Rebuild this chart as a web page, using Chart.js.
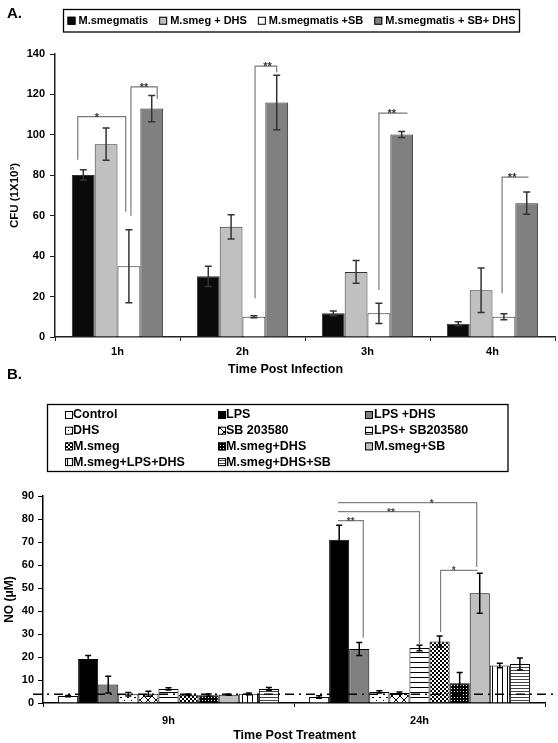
<!DOCTYPE html>
<html>
<head>
<meta charset="utf-8">
<script src="https://cdn.jsdelivr.net/npm/chart.js"></script>
<style>
body { margin: 0; background: #fff; }
canvas { position: absolute; left: 0; }
#chartA { top: 0; }
#chartB { top: 360px; }
</style>
</head>
<body>
<canvas id="chartA" width="558" height="380"></canvas>
<canvas id="chartB" width="558" height="383"></canvas>
<script>
const fontFam = '"Liberation Sans", Arial, Helvetica, sans-serif';

// ---------- panel A : CFU ----------
const timesA = ['1h', '2h', '3h', '4h'];
const namesA = ['M.smegmatis', 'M.smeg + DHS', 'M.smegmatis +SB', 'M.smegmatis + SB+ DHS'];
const cfuSmeg = [80.2, 30, 11.7, 6.6];
const cfuSmegErr = [2.5, 5, 1.2, 1];
const cfuDhs = [95.4, 54.5, 32.2, 23.1];
const cfuDhsErr = [8, 6, 5.6, 11];
const cfuSb = [35, 10, 11.7, 10];
const cfuSbErr = [18, 0.5, 5, 1.5];
const cfuSbDhs = [113, 116, 100.2, 66.2];
const cfuSbDhsErr = [6.5, 13.5, 1.5, 5.5];
const cfuTicks = [0, 20, 40, 60, 80, 100, 120, 140];
// [time, from bar, to bar, top, left foot, right foot, stars, star pos]
const sigA = [
  [0, -0.24, 1.86, 109, 87.7, 62, '*', 0.4],
  [0, 2.09, 3.24, 123.7, 60, 117.7, '**', 0.5],
  [1, 2.05, 3.0, 134, 19.2, 131, '**', 0.58],
  [2, 2.0, 3.25, 110.8, 23.3, 110.8, '**', 0.45],
  [3, 1.92, 3.08, 79.1, 21.6, 79.1, '**', 0.38]
];

// ---------- panel B : NO ----------
const timesB = ['9h', '24h'];
const namesB = ['Control', 'LPS', 'LPS +DHS', 'DHS', 'SB 203580', 'LPS+ SB203580',
  'M.smeg', 'M.smeg+DHS', 'M.smeg+SB', 'M.smeg+LPS+DHS', 'M.smeg+DHS+SB'];
const noControl = [3.0, 2.6];
const noControlErr = [0.3, 0.5];
const noLps = [19.1, 71];
const noLpsErr = [1.5, 6.3];
const noLpsDhs = [8, 23.5];
const noLpsDhsErr = [3.6, 2.8];
const noDhs = [3.8, 4.8];
const noDhsErr = [0.8, 0.5];
const noSb = [4.0, 4.3];
const noSbErr = [1.1, 0.5];
const noLpsSb = [6.1, 23.9];
const noLpsSbErr = [0.5, 1.2];
const noSmeg = [3.6, 26.7];
const noSmegErr = [0.3, 2.4];
const noSmegDhs = [3.4, 8.6];
const noSmegDhsErr = [0.5, 4.7];
const noSmegSb = [3.6, 47.7];
const noSmegSbErr = [0.2, 8.7];
const noSmegLpsDhs = [4.0, 16.3];
const noSmegLpsDhsErr = [0.4, 1];
const noSmegDhsSb = [6.1, 17];
const noSmegDhsSbErr = [0.6, 2.6];
const noTicks = [0, 10, 20, 30, 40, 50, 60, 70, 80, 90];
const noBaseline = 3.8;
const sigB = [
  [1, 0.94, 7.85, 87.1, 87.1, 59.1, '*', 0.675],
  [1, 0.94, 5.0, 83.2, 83.2, 25.1, '**', 0.65],
  [1, 0.94, 2.2, 79.3, 79.3, 28.4, '**', 0.5],
  [1, 6.05, 7.9, 57.7, 30.9, 57.7, '*', 0.35]
];

Chart.defaults.font.family = fontFam;
Chart.defaults.font.weight = 'bold';
Chart.defaults.color = '#000';

// fill patterns
function makePattern(w, h, draw) {
  const c = document.createElement('canvas');
  c.width = w; c.height = h;
  const g = c.getContext('2d');
  g.fillStyle = '#fff';
  g.fillRect(0, 0, w, h);
  g.fillStyle = '#000';
  draw(g);
  return g.createPattern(c, 'repeat');
}
const patDots = makePattern(7, 6, g => { g.fillRect(1, 1, 2, 1); g.fillRect(5, 4, 1, 1); });
const patCross = makePattern(8, 8, g => {
  g.strokeStyle = '#000'; g.lineWidth = 1;
  g.beginPath(); g.moveTo(0, 0); g.lineTo(8, 8); g.moveTo(8, 0); g.lineTo(0, 8); g.stroke();
});
const patHoriz = makePattern(1, 5, g => g.fillRect(0, 2, 1, 1));
const patChecker = makePattern(4, 4, g => { g.fillRect(0, 0, 2, 2); g.fillRect(2, 2, 2, 2); });
const patDense = makePattern(3, 3, g => { g.fillRect(0, 0, 3, 3); g.fillStyle = '#fff'; g.fillRect(1, 1, 1, 1); });
const patVert = makePattern(5, 1, g => g.fillRect(2, 0, 1, 1));
const patHorizGray = makePattern(1, 3, g => { g.fillStyle = '#444'; g.fillRect(0, 1, 1, 1); });

// plugins
function errorBars(color, width, cap) {
  return {
    id: 'errorBars',
    afterDatasetsDraw(chart) {
      const ctx = chart.ctx, y = chart.scales.y;
      ctx.save();
      ctx.strokeStyle = color;
      ctx.lineWidth = width;
      chart.data.datasets.forEach((ds, i) => {
        chart.getDatasetMeta(i).data.forEach((bar, j) => {
          const e = ds.errors[j];
          const hi = y.getPixelForValue(ds.data[j] + e);
          const lo = y.getPixelForValue(Math.max(0, ds.data[j] - e));
          const x = bar.x;
          ctx.beginPath();
          ctx.moveTo(x, hi); ctx.lineTo(x, lo);
          ctx.moveTo(x - cap, hi); ctx.lineTo(x + cap, hi);
          ctx.moveTo(x - cap, lo); ctx.lineTo(x + cap, lo);
          ctx.stroke();
        });
      });
      ctx.restore();
    }
  };
}

function brackets(list, color, textColor, font) {
  return {
    id: 'brackets',
    afterDatasetsDraw(chart) {
      const ctx = chart.ctx, y = chart.scales.y;
      const xAt = (cat, s) => {
        const a = chart.getDatasetMeta(0).data[cat].x;
        const b = chart.getDatasetMeta(1).data[cat].x;
        return a + s * (b - a);
      };
      ctx.save();
      ctx.strokeStyle = color;
      ctx.lineWidth = 1.2;
      ctx.fillStyle = textColor;
      ctx.font = font;
      ctx.textAlign = 'center';
      ctx.textBaseline = 'alphabetic';
      list.forEach(([cat, s0, s1, top, footL, footR, stars, pos]) => {
        const x0 = xAt(cat, s0), x1 = xAt(cat, s1);
        const yt = y.getPixelForValue(top);
        ctx.beginPath();
        ctx.moveTo(x0, y.getPixelForValue(footL));
        ctx.lineTo(x0, yt);
        ctx.lineTo(x1, yt);
        ctx.lineTo(x1, y.getPixelForValue(footR));
        ctx.stroke();
        ctx.fillText(stars, x0 + (x1 - x0) * pos, yt + 4);
      });
      ctx.restore();
    }
  };
}

function drawSwatch(ctx, fill, x, cy, size) {
  ctx.fillStyle = fill;
  ctx.fillRect(x, cy - size / 2, size, size);
  ctx.strokeRect(x + 0.5, cy - size / 2 + 0.5, size - 1, size - 1);
}

// one-row legend in a box, gaps spread to fill it
function rowLegend(box, font, size) {
  return {
    id: 'rowLegend',
    afterDraw(chart) {
      const ctx = chart.ctx;
      const ds = chart.data.datasets;
      ctx.save();
      ctx.lineWidth = 1.3;
      ctx.strokeStyle = '#000';
      ctx.strokeRect(box[0], box[1], box[2], box[3]);
      ctx.font = font;
      ctx.textBaseline = 'middle';
      ctx.lineWidth = 1;
      const widths = ds.map(d => size + 3 + ctx.measureText(d.label).width);
      const used = widths.reduce((a, b) => a + b, 0);
      const gap = (box[2] - 8 - used) / (ds.length - 1);
      const cy = box[1] + box[3] / 2;
      let x = box[0] + 4;
      ds.forEach((d, i) => {
        drawSwatch(ctx, d.backgroundColor, x, cy, size);
        ctx.fillStyle = '#000';
        ctx.fillText(d.label, x + size + 3, cy);
        x += widths[i] + gap;
      });
      ctx.restore();
    }
  };
}

// grid legend in a box, place(i) -> [swatch x, text x, centre y]
function gridLegend(box, font, size, place) {
  return {
    id: 'gridLegend',
    afterDraw(chart) {
      const ctx = chart.ctx;
      ctx.save();
      ctx.lineWidth = 1.3;
      ctx.strokeStyle = '#000';
      ctx.strokeRect(box[0], box[1], box[2], box[3]);
      ctx.font = font;
      ctx.textBaseline = 'middle';
      ctx.lineWidth = 1;
      chart.data.datasets.forEach((ds, i) => {
        const [sx, tx, cy] = place(i);
        drawSwatch(ctx, ds.backgroundColor, sx, cy, size);
        ctx.fillStyle = '#000';
        ctx.fillText(ds.label, tx, cy);
      });
      ctx.restore();
    }
  };
}

function panelText(letter, letterY, title, titleX, titleY) {
  return {
    id: 'panelText',
    afterDraw(chart) {
      const ctx = chart.ctx;
      ctx.save();
      ctx.fillStyle = '#000';
      ctx.textBaseline = 'middle';
      ctx.font = 'bold 15px ' + fontFam;
      ctx.textAlign = 'left';
      ctx.fillText(letter, 7, letterY);
      ctx.font = 'bold 12.5px ' + fontFam;
      ctx.textAlign = 'center';
      ctx.fillText(title, titleX, titleY);
      ctx.restore();
    }
  };
}

const baseLine = {
  id: 'baseLine',
  afterDatasetsDraw(chart) {
    const ctx = chart.ctx;
    const yy = chart.scales.y.getPixelForValue(noBaseline);
    ctx.save();
    ctx.strokeStyle = '#000';
    ctx.lineWidth = 1.6;
    ctx.setLineDash([9, 5, 2, 5]);
    ctx.beginPath();
    ctx.moveTo(33, yy);
    ctx.lineTo(556, yy);
    ctx.stroke();
    ctx.restore();
  }
};

// ---------- chart A ----------
new Chart(document.getElementById('chartA'), {
  type: 'bar',
  data: {
    labels: timesA,
    datasets: [
      { label: namesA[0], data: cfuSmeg, errors: cfuSmegErr, backgroundColor: '#0a0a0a' },
      { label: namesA[1], data: cfuDhs, errors: cfuDhsErr, backgroundColor: '#c0c0c0' },
      { label: namesA[2], data: cfuSb, errors: cfuSbErr, backgroundColor: '#ffffff' },
      { label: namesA[3], data: cfuSbDhs, errors: cfuSbDhsErr, backgroundColor: '#808080' }
    ]
  },
  options: {
    responsive: false,
    animation: false,
    layout: { padding: { top: 54, left: 0, right: 3, bottom: 0 } },
    datasets: { bar: { borderColor: '#333', borderWidth: 1, categoryPercentage: 0.73, barPercentage: 1 } },
    plugins: { legend: { display: false }, tooltip: { enabled: false } },
    scales: {
      x: {
        afterFit: s => { s.height = 43; },
        grid: { drawOnChartArea: false, drawTicks: true, tickLength: 4, color: '#222' },
        border: { display: true, color: '#222', width: 1.5 },
        ticks: { font: { size: 11, weight: 'bold' }, padding: 4 }
      },
      y: {
        min: 0, max: 140,
        afterFit: s => { s.width = 55; },
        afterBuildTicks: s => { s.ticks = cfuTicks.map(v => ({ value: v })); },
        grid: { drawOnChartArea: false, drawTicks: true, tickLength: 5, color: '#222' },
        border: { display: true, color: '#222', width: 1.5 },
        ticks: { font: { size: 11, weight: 'bold' }, padding: 5 },
        title: { display: true, text: 'CFU (1X10³)', font: { size: 11.5, weight: 'bold' }, padding: { top: 8, bottom: 0 } }
      }
    }
  },
  plugins: [
    errorBars('#333', 1.5, 3.5),
    brackets(sigA, '#7a7a7a', '#333', 'bold 11px ' + fontFam),
    rowLegend([63.5, 9.5, 456, 22.5], 'bold 11px ' + fontFam, 8),
    panelText('A.', 13.5, 'Time Post Infection', 285.5, 369.5)
  ]
});

// ---------- chart B ----------
const legendBx = [[65, 73], [218, 226], [365, 374]];
const fillsB = ['#ffffff', '#000000', '#808080', patDots, patCross, patHoriz,
  patChecker, patDense, '#c0c0c0', patVert, patHorizGray];
const valuesB = [noControl, noLps, noLpsDhs, noDhs, noSb, noLpsSb, noSmeg, noSmegDhs, noSmegSb, noSmegLpsDhs, noSmegDhsSb];
const errorsB = [noControlErr, noLpsErr, noLpsDhsErr, noDhsErr, noSbErr, noLpsSbErr, noSmegErr, noSmegDhsErr, noSmegSbErr, noSmegLpsDhsErr, noSmegDhsSbErr];

new Chart(document.getElementById('chartB'), {
  type: 'bar',
  data: {
    labels: timesB,
    datasets: namesB.map((n, i) => ({ label: n, data: valuesB[i], errors: errorsB[i], backgroundColor: fillsB[i] }))
  },
  options: {
    responsive: false,
    animation: false,
    layout: { padding: { top: 136, left: 0, right: 13, bottom: 0 } },
    datasets: { bar: { borderColor: '#000', borderWidth: 1, categoryPercentage: 0.88, barPercentage: 1 } },
    plugins: { legend: { display: false }, tooltip: { enabled: false } },
    scales: {
      x: {
        afterFit: s => { s.height = 40; },
        grid: { drawOnChartArea: false, drawTicks: true, tickLength: 4, color: '#000' },
        border: { display: true, color: '#000', width: 1.5 },
        ticks: { font: { size: 11, weight: 'bold' }, padding: 7 }
      },
      y: {
        min: 0, max: 90,
        afterFit: s => { s.width = 43; },
        afterBuildTicks: s => { s.ticks = noTicks.map(v => ({ value: v })); },
        grid: { drawOnChartArea: false, drawTicks: true, tickLength: 5, color: '#000' },
        border: { display: true, color: '#000', width: 1.5 },
        ticks: { font: { size: 11, weight: 'bold' }, padding: 4 },
        title: { display: true, text: 'NO (μM)', font: { size: 12, weight: 'bold' }, padding: { top: 2, bottom: 0 } }
      }
    }
  },
  plugins: [
    errorBars('#000', 1.5, 3),
    baseLine,
    brackets(sigB, '#808080', '#444', 'bold 10px ' + fontFam),
    gridLegend([47.5, 44.5, 460.5, 67], 'bold 12.5px ' + fontFam, 8,
      i => [legendBx[i % 3][0], legendBx[i % 3][1], 55 + 15.7 * Math.floor(i / 3)]),
    panelText('B.', 14.5, 'Time Post Treatment', 294.5, 376)
  ]
});
</script>
</body>
</html>
